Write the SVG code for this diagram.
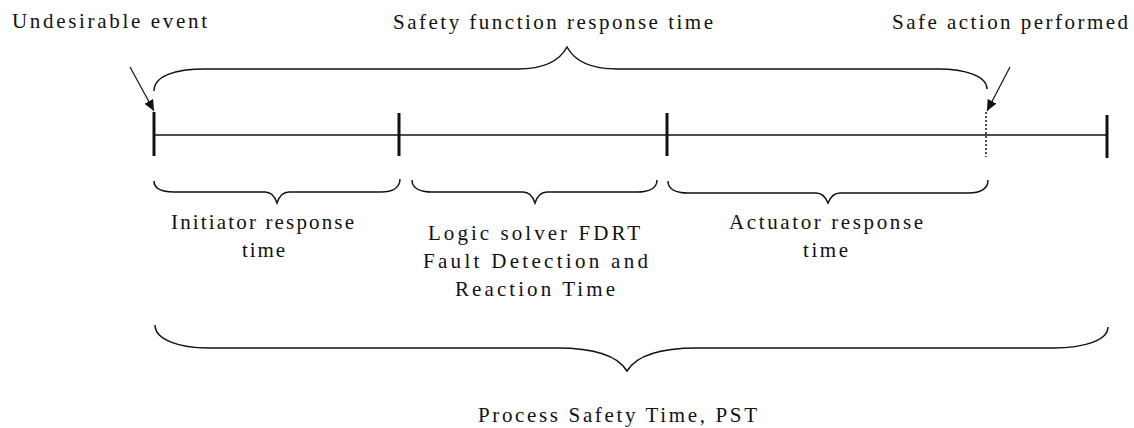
<svg xmlns="http://www.w3.org/2000/svg" width="1134" height="428" viewBox="0 0 1134 428">
<style>
  .bg{fill:#ffffff}
  .lbl{font-family:"Liberation Serif","Times New Roman",serif;font-size:21px;fill:#111111}
  .ln{fill:none;stroke:#111111;stroke-width:1.5}
  .tick{stroke:#111111;stroke-width:3}
  .dot{stroke:#111111;stroke-width:1.5;stroke-dasharray:2 2}
  .br{fill:none;stroke:#111111;stroke-width:1.5}
  .ar{fill:none;stroke:#111111;stroke-width:1.2}
</style>
<defs>
  <marker id="ah" markerUnits="userSpaceOnUse" markerWidth="12" markerHeight="10" refX="11" refY="5" orient="auto">
    <path d="M0,0 L11,5 L0,10 Z" fill="#111111"/>
  </marker>
</defs>
<rect class="bg" x="0" y="0" width="1134" height="428"/>

<g id="connectors">
  <line class="ln" x1="154" y1="135" x2="1107" y2="135"/>
  <line class="tick" x1="154" y1="112" x2="154" y2="156"/>
  <line class="tick" x1="399" y1="113" x2="399" y2="156"/>
  <line class="tick" x1="667" y1="113" x2="667" y2="156"/>
  <line class="tick" x1="1107" y1="115" x2="1107" y2="158"/>
  <line class="dot" x1="986" y1="112" x2="986" y2="157"/>
  <line class="ar" x1="130" y1="67" x2="154" y2="111" marker-end="url(#ah)"/>
  <line class="ar" x1="1010" y1="67" x2="987" y2="111" marker-end="url(#ah)"/>
  <path class="br" d="M154,91 C154,76 175,69 205,69 L518,69 C545,69 560,60 567,47 C574,60 589,69 617,69 L938,69 C965,69 987,76 987,89"/>
  <path class="br" d="M154,181 C154,189 163,192 174,192 L265,192 C271,192 275,197 277,203 C279,197 283,192 289,192 L381,192 C392,192 400,188 400,179"/>
  <path class="br" d="M412,180 C412,188 420,192 432,192 L523,192 C529,192 533,197 535,203 C537,197 541,192 547,192 L637,192 C649,192 657,188 657,180"/>
  <path class="br" d="M668,181 C668,189 676,193 688,193 L816,193 C822,193 826,198 828,203 C830,198 834,193 840,193 L968,193 C980,193 988,189 988,180"/>
  <path class="br" d="M155,325 C155,340 180,348 208,348 L557,348 C595,348 618,356 627,371 C636,356 659,348 697,348 L1053,348 C1085,348 1108,340 1108,327"/>
</g>

<g id="undesirable-event">
  <text class="lbl" x="12" y="28" textLength="195" lengthAdjust="spacing">Undesirable event</text>
</g>
<g id="safety-function-response-time">
  <text class="lbl" x="393" y="29" textLength="320" lengthAdjust="spacing">Safety function response time</text>
</g>
<g id="safe-action-performed">
  <text class="lbl" x="892" y="29" textLength="236" lengthAdjust="spacing">Safe action performed</text>
</g>
<g id="initiator-response-time">
  <text class="lbl" x="171" y="229" textLength="183" lengthAdjust="spacing">Initiator response</text>
  <text class="lbl" x="242" y="257" textLength="43" lengthAdjust="spacing">time</text>
</g>
<g id="logic-solver-fdrt">
  <text class="lbl" x="428" y="240" textLength="212" lengthAdjust="spacing">Logic solver FDRT</text>
  <text class="lbl" x="423" y="268" textLength="225" lengthAdjust="spacing">Fault Detection and</text>
  <text class="lbl" x="455" y="296" textLength="160" lengthAdjust="spacing">Reaction Time</text>
</g>
<g id="actuator-response-time">
  <text class="lbl" x="729" y="229" textLength="194" lengthAdjust="spacing">Actuator response</text>
  <text class="lbl" x="803" y="257" textLength="45" lengthAdjust="spacing">time</text>
</g>
<g id="process-safety-time">
  <text class="lbl" x="478" y="422" textLength="279" lengthAdjust="spacing">Process Safety Time, PST</text>
</g>
</svg>
